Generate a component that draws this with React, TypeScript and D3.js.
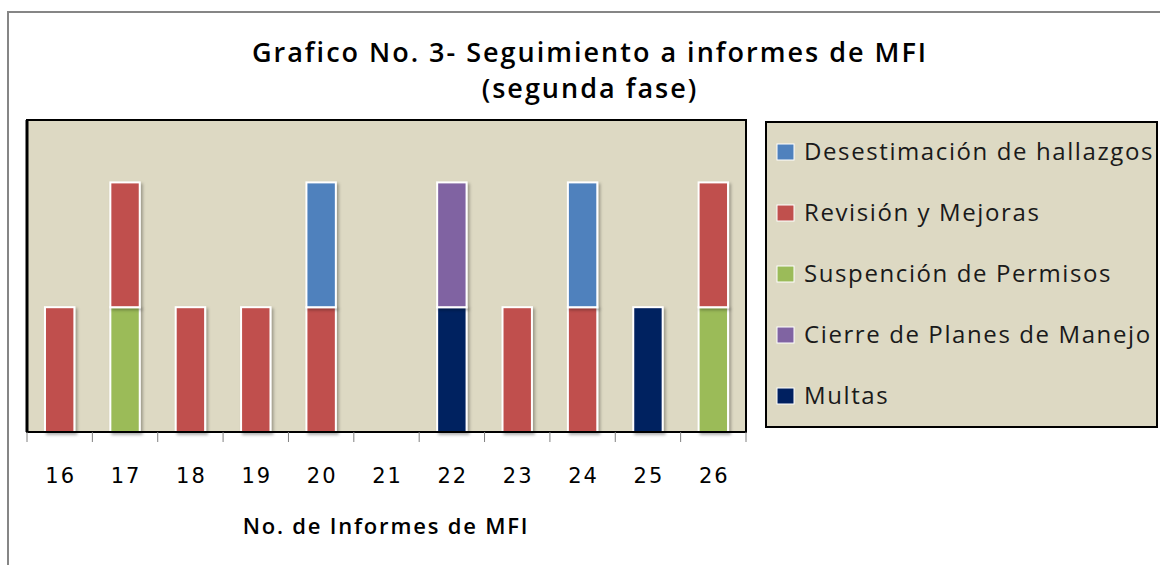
import * as React from "react";
import * as d3 from "d3";

const categories = ["16", "17", "18", "19", "20", "21", "22", "23", "24", "25", "26"];
const seriesNames = [
  "Multas",
  "Cierre de Planes de Manejo",
  "Suspención de Permisos",
  "Revisión y Mejoras",
  "Desestimación de hallazgos",
];
const multas = [0, 0, 0, 0, 0, 0, 1, 0, 0, 1, 0];
const cierre = [0, 0, 0, 0, 0, 0, 1, 0, 0, 0, 0];
const suspencion = [0, 1, 0, 0, 0, 0, 0, 0, 0, 0, 1];
const revision = [1, 1, 1, 1, 1, 0, 0, 1, 1, 0, 1];
const desestimacion = [0, 0, 0, 0, 1, 0, 0, 0, 1, 0, 0];
const seriesColors = ["#002060", "#8064A2", "#9BBB59", "#C0504D", "#4F81BD"];

const W = 1160;
const H = 565;
const plot = { left: 27, top: 120, right: 746, bottom: 432 };
const bg = "#DDD9C3";

export default function App() {
  const values = [multas, cierre, suspencion, revision, desestimacion];
  const rows = categories.map((c, i) => {
    const r: any = { cat: c };
    seriesNames.forEach((s, k) => (r[s] = values[k][i]));
    return r;
  });
  const stacked = d3.stack().keys(seriesNames)(rows);

  const x = d3
    .scaleBand()
    .domain(categories)
    .range([plot.left, plot.right])
    .paddingInner(0.55)
    .paddingOuter(0.275);
  const y = d3.scaleLinear().domain([0, 2.5]).range([plot.bottom, plot.top]);
  const color = d3.scaleOrdinal<string, string>().domain(seriesNames).range(seriesColors);

  const step = x.step();
  const tickPos = categories.map((c) => (x(c) as number) + x.bandwidth() / 2 - step / 2);
  tickPos.push(plot.right);

  // legend lists the top series first
  const legendOrder = seriesNames.slice().reverse();

  return (
    <svg width={W} height={H} style={{ position: "absolute", left: 0, top: 0 }}>
      <defs>
        <filter id="shadow" x="-30%" y="-10%" width="160%" height="130%">
          <feDropShadow dx="2" dy="2" stdDeviation="1.5" floodColor="#000" floodOpacity="0.3" />
        </filter>
      </defs>
      <rect x={0} y={0} width={W} height={H} fill="#fff" />
      <rect x={8} y={12} width={W} height={H} fill="none" stroke="#868686" strokeWidth={2} />

      <g
        fontFamily="'Open Sans', sans-serif"
        fontWeight={600}
        fontSize={27}
        letterSpacing={2}
        textAnchor="middle"
        fill="#000"
      >
        <text x={590} y={62}>Grafico No. 3- Seguimiento a informes de MFI</text>
        <text x={590} y={98}>(segunda fase)</text>
      </g>

      <rect
        x={plot.left}
        y={plot.top}
        width={plot.right - plot.left}
        height={plot.bottom - plot.top}
        fill={bg}
        stroke="#000"
        strokeWidth={2}
      />

      {stacked.map((layer) => (
        <g key={layer.key} fill={color(layer.key)}>
          {layer
            .filter((d) => d[1] - d[0] > 0)
            .map((d) => (
              <rect
                key={d.data.cat}
                x={x(d.data.cat)}
                y={y(d[1])}
                width={x.bandwidth()}
                height={y(d[0]) - y(d[1])}
                stroke="#fff"
                strokeWidth={2}
                filter="url(#shadow)"
              />
            ))}
        </g>
      ))}

      <line x1={plot.left} x2={plot.left} y1={plot.top} y2={plot.bottom} stroke="#000" strokeWidth={3} />
      <line x1={plot.left} x2={plot.right} y1={plot.bottom} y2={plot.bottom} stroke="#000" strokeWidth={2} />
      {tickPos.map((t, i) => (
        <line key={i} x1={t} x2={t} y1={plot.bottom} y2={plot.bottom + 10} stroke="#808080" strokeWidth={1} />
      ))}
      <g fontFamily="'DejaVu Sans', sans-serif" fontSize={21} letterSpacing={2} textAnchor="middle" fill="#000">
        {categories.map((c) => (
          <text key={c} x={(x(c) as number) + x.bandwidth() / 2 + 1} y={483}>
            {c}
          </text>
        ))}
      </g>
      <text
        x={386}
        y={534}
        fontFamily="'Open Sans', sans-serif"
        fontWeight={600}
        fontSize={22}
        letterSpacing={1.8}
        textAnchor="middle"
        fill="#000"
      >
        No. de Informes de MFI
      </text>

      <rect x={766} y={122} width={391} height={305} fill={bg} stroke="#000" strokeWidth={2} />
      {legendOrder.map((s, i) => {
        const cy = 152 + i * 61;
        return (
          <g key={s}>
            <rect x={777} y={cy - 8} width={17} height={16} fill={color(s)} stroke="#fff" strokeWidth={1} />
            <text
              x={804}
              y={cy + 8}
              fontFamily="'Open Sans', sans-serif"
              fontSize={24}
              letterSpacing={1.6}
              fill="#1a1a1a"
            >
              {s}
            </text>
          </g>
        );
      })}
    </svg>
  );
}
